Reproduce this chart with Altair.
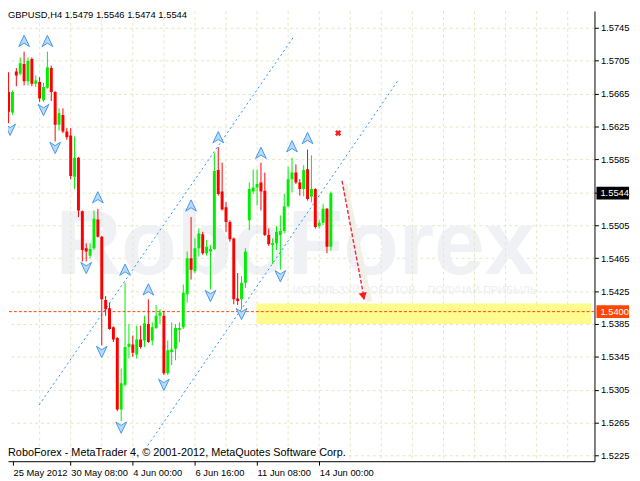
import altair as alt
import pandas as pd

# ---------------- data ----------------
bar_index = list(range(84))
opens = [1.5667,1.5642,1.5692,1.5689,1.5701,1.5680,1.5707,1.5677,1.5679,1.5657,
         1.5672,1.5696,1.5667,1.5627,1.5639,1.5619,1.5614,1.5564,1.5587,1.5522,
         1.5477,1.5468,1.5477,1.5512,1.5491,1.5414,1.5404,1.5381,1.5368,1.5281,
         1.5311,1.5357,1.5360,1.5348,1.5366,1.5365,1.5385,1.5365,1.5380,1.5395,
         1.5395,1.5325,1.5351,1.5355,1.5378,1.5381,1.5421,1.5465,1.5449,1.5477,
         1.5494,1.5471,1.5473,1.5476,1.5572,1.5546,1.5527,1.5509,1.5489,1.5416,
         1.5415,1.5435,1.5511,1.5546,1.5551,1.5557,1.5547,1.5493,1.5481,1.5483,
         1.5493,1.5498,1.5528,1.5561,1.5569,1.5557,1.5549,1.5573,1.5540,1.5549,
         1.5504,1.5508,1.5525,1.5479]
highs = [1.5691,1.5669,1.5696,1.5709,1.5716,1.5709,1.5709,1.5687,1.5685,1.5678,
         1.5716,1.5699,1.5668,1.5647,1.5647,1.5623,1.5623,1.5613,1.5588,1.5523,
         1.5483,1.5483,1.5523,1.5525,1.5492,1.5419,1.5411,1.5382,1.5369,1.5331,
         1.5435,1.5385,1.5371,1.5383,1.5383,1.5395,1.5415,1.5387,1.5408,1.5403,
         1.5401,1.5365,1.5387,1.5385,1.5387,1.5433,1.5473,1.5515,1.5489,1.5501,
         1.5497,1.5487,1.5481,1.5593,1.5600,1.5581,1.5533,1.5511,1.5490,1.5447,
         1.5443,1.5477,1.5557,1.5573,1.5573,1.5581,1.5569,1.5501,1.5489,1.5504,
         1.5517,1.5543,1.5576,1.5587,1.5579,1.5561,1.5578,1.5597,1.5590,1.5550,
         1.5511,1.5531,1.5526,1.5546]
lows = [1.5629,1.5639,1.5674,1.5687,1.5675,1.5675,1.5674,1.5673,1.5655,1.5655,
        1.5671,1.5656,1.5607,1.5620,1.5617,1.5609,1.5561,1.5549,1.5515,1.5461,
        1.5461,1.5465,1.5475,1.5490,1.5359,1.5395,1.5378,1.5363,1.5279,1.5267,
        1.5309,1.5343,1.5345,1.5343,1.5355,1.5357,1.5362,1.5359,1.5379,1.5385,
        1.5323,1.5323,1.5335,1.5341,1.5363,1.5379,1.5411,1.5439,1.5447,1.5467,
        1.5469,1.5468,1.5427,1.5475,1.5541,1.5523,1.5497,1.5485,1.5409,1.5408,
        1.5403,1.5429,1.5499,1.5543,1.5529,1.5523,1.5492,1.5480,1.5458,1.5475,
        1.5451,1.5495,1.5527,1.5545,1.5555,1.5541,1.5540,1.5535,1.5533,1.5501,
        1.5501,1.5505,1.5471,1.5474]
closes = [1.5643,1.5667,1.5687,1.5702,1.5680,1.5705,1.5677,1.5681,1.5659,1.5673,
          1.5697,1.5667,1.5627,1.5641,1.5619,1.5612,1.5565,1.5587,1.5523,1.5475,
          1.5473,1.5476,1.5513,1.5491,1.5415,1.5403,1.5379,1.5366,1.5281,1.5313,
          1.5357,1.5361,1.5350,1.5366,1.5357,1.5386,1.5363,1.5381,1.5395,1.5399,
          1.5325,1.5353,1.5354,1.5380,1.5380,1.5423,1.5465,1.5451,1.5477,1.5495,
          1.5471,1.5479,1.5476,1.5571,1.5543,1.5524,1.5509,1.5488,1.5415,1.5413,
          1.5435,1.5473,1.5549,1.5551,1.5555,1.5546,1.5493,1.5482,1.5483,1.5497,
          1.5498,1.5528,1.5561,1.5569,1.5557,1.5549,1.5572,1.5537,1.5549,1.5503,
          1.5508,1.5525,1.5479,1.5544]

# fractal arrows
up_idx = [4, 10, 23, 30, 36, 47, 54, 65, 73, 77]
up_price = [1.5729, 1.5729, 1.5539, 1.5451, 1.5427, 1.5529, 1.5612, 1.5593, 1.5601, 1.5611]
down_idx = [0.4, 9, 12, 20, 24, 29, 40, 52, 60, 70]
down_price = [1.5621, 1.5645, 1.5599, 1.5453, 1.5351, 1.5259, 1.5311, 1.5419, 1.5397, 1.5443]

# channel lines (two points each)
chan_name = ["A", "A", "B", "B"]
chan_idx = [7.875, 73.625, 35.875, 100.375]
chan_price = [1.52866, 1.57354, 1.52374, 1.56814]

# forecast arrow, target, zone
fc_idx = [85.875, 91.625]
fc_price = [1.5559, 1.5415]
shadow_idx = [86.6, 93.0]
shadow_price = [1.5555, 1.5412]
head_idx = [91.375]
head_price = [1.54186]
cross_idx = [84.875]
cross_price = [1.5617]
zone_start, zone_end = 63.875, 150.0
zone_low, zone_high = 1.5385, 1.5410
target_level = 1.5400

# axes
y_ticks = [1.5225, 1.5265, 1.5305, 1.5345, 1.5385, 1.5425, 1.5465, 1.5505,
           1.5545, 1.5585, 1.5625, 1.5665, 1.5705, 1.5745]
x_tick_idx = [1.125, 16, 32, 48, 64, 80]
x_tick_lbl = ["25 May 2012", "30 May 08:00", "4 Jun 00:00", "6 Jun 16:00",
              "11 Jun 08:00", "14 Jun 00:00"]
vgrid_idx = list(range(8, 150, 8))
box_lbl = ["1.5544", "1.5400"]
box_price = [1.5544, 1.5400]
box_color = ["#000000", "#FF4500"]

title_txt = "GBPUSD,H4  1.5479 1.5546 1.5474 1.5544"
copy_txt = "RoboForex - MetaTrader 4, \u00a9 2001-2012, MetaQuotes Software Corp."

# ---------------- chart ----------------
FONT = "Liberation Sans"
GRID = "#E6E6C4"
xs = alt.Scale(domain=[1.125, 149.625], nice=False, zero=False)
ys = alt.Scale(domain=[1.52182, 1.57654], nice=False, zero=False)

expr = "".join(
    f"abs(datum.value - {v}) < 0.5 ? '{l}' : " for v, l in zip(x_tick_idx, x_tick_lbl)
) + "''"
xaxis = alt.Axis(values=x_tick_idx, labelExpr=expr, labelAlign="left", labelBaseline="top",
                 labelFlush=False, labelOverlap=False, labelPadding=2, labelFont=FONT,
                 labelFontSize=9.5, labelColor="black", tickSize=4, tickColor="black",
                 domain=True, domainColor="black", grid=False, title=None)
yaxis = alt.Axis(orient="right", values=y_ticks, format=".4f", labelFont=FONT,
                 labelFontSize=9.5, labelColor="black", labelPadding=2, labelFlush=False,
                 labelOverlap=False, tickSize=4, tickColor="black", domain=True,
                 domainColor="black", grid=True, gridColor=GRID, gridDash=[3, 3], title=None)


def X(f):
    return alt.X(f, type="quantitative", scale=xs, axis=xaxis)


def Y(f):
    return alt.Y(f, type="quantitative", scale=ys, axis=yaxis)


candles = pd.DataFrame({"i": bar_index, "open": opens, "high": highs,
                        "low": lows, "close": closes})
candles["dir"] = ["up" if c >= o else "down" for o, c in zip(opens, closes)]
col = alt.Color("dir:N", scale=alt.Scale(domain=["up", "down"], range=["#00EE00", "#FF0000"]),
                legend=None)

wm = alt.Chart(pd.DataFrame({"t": ["RoboForex"]})).mark_text(
    font=FONT, fontSize=92, fontWeight="bold", color="#EFF1F5", align="center",
    baseline="alphabetic").encode(text="t:N", x=alt.value(291), y=alt.value(266))
wm2 = alt.Chart(pd.DataFrame({"t": ["ИСПОЛЬЗУЙ РОБОТОВ – ПОЛУЧАЙ ПРИБЫЛЬ"]})).mark_text(
    font=FONT, fontSize=11, color="#EDEEF2", align="center",
    baseline="alphabetic").encode(text="t:N", x=alt.value(412), y=alt.value(287))

vgrid = alt.Chart(pd.DataFrame({"g": vgrid_idx})).mark_rule(
    color=GRID, strokeDash=[3, 3], strokeWidth=1, clip=True).encode(x=X("g"))

zone = alt.Chart(pd.DataFrame({"x1": [zone_start], "x2": [zone_end],
                               "y1": [zone_low], "y2": [zone_high]})).mark_rect(
    color="#FFFB8E", clip=True).encode(x=X("x1"), x2="x2", y=Y("y1"), y2="y2")

hline = alt.Chart(pd.DataFrame({"p": [target_level]})).mark_rule(
    color="#FF4500", strokeDash=[3, 2], strokeWidth=1, clip=True).encode(y=Y("p"))

chan = alt.Chart(pd.DataFrame({"n": chan_name, "i": chan_idx, "p": chan_price})).mark_line(
    color="#1E90FF", strokeDash=[2, 3], strokeWidth=1, clip=True).encode(
    x=X("i"), y=Y("p"), detail="n:N")

wicks = alt.Chart(candles).mark_rule(strokeWidth=1, clip=True).encode(
    x=X("i"), y=Y("low"), y2="high", color=col)
bodies = alt.Chart(candles).mark_bar(size=3, clip=True).encode(
    x=X("i"), y=Y("open"), y2="close", color=col)

UP_PATH = "M0,-1L0.95,1L0,0.4L-0.95,1Z"
DOWN_PATH = "M0,1L0.95,-1L0,-0.4L-0.95,-1Z"
ups = alt.Chart(pd.DataFrame({"i": up_idx, "p": up_price})).mark_point(
    shape=UP_PATH, size=130, filled=True, fill="#B8DAFA", stroke="#4596EC",
    strokeWidth=1, opacity=1, clip=True).encode(x=X("i"), y=Y("p"))
downs = alt.Chart(pd.DataFrame({"i": down_idx, "p": down_price})).mark_point(
    shape=DOWN_PATH, size=130, filled=True, fill="#B8DAFA", stroke="#4596EC",
    strokeWidth=1, opacity=1, clip=True).encode(x=X("i"), y=Y("p"))

shadow = alt.Chart(pd.DataFrame({"i": shadow_idx, "p": shadow_price})).mark_line(
    color="#F0F0E6", strokeWidth=5, clip=True).encode(x=X("i"), y=Y("p"))
fc = alt.Chart(pd.DataFrame({"i": fc_idx, "p": fc_price})).mark_line(
    color="#F0304A", strokeDash=[4, 2], strokeWidth=1.5, clip=True).encode(x=X("i"), y=Y("p"))
head = alt.Chart(pd.DataFrame({"i": head_idx, "p": head_price})).mark_point(
    shape="triangle-down", size=70, filled=True, color="#FF1A1A", angle=349,
    opacity=1, clip=True).encode(x=X("i"), y=Y("p"))
cross = alt.Chart(pd.DataFrame({"i": cross_idx, "p": cross_price})).mark_point(
    shape="cross", size=40, filled=True, color="#FF2020", angle=45, opacity=1,
    clip=True).encode(x=X("i"), y=Y("p"))

boxes_df = pd.DataFrame({"t": box_lbl, "p": box_price, "c": box_color})
boxes = alt.Chart(boxes_df).mark_rule(strokeWidth=13).encode(
    x=alt.value(596), x2=alt.value(629), y=Y("p"), color=alt.Color("c:N", scale=None))
box_txt = alt.Chart(boxes_df).mark_text(
    font=FONT, fontSize=9.5, color="white", align="left", baseline="middle").encode(
    x=alt.value(600), y=Y("p"), text="t:N")

title = alt.Chart(pd.DataFrame({"t": [title_txt]})).mark_text(
    font=FONT, fontSize=9.5, color="black", align="left", baseline="alphabetic").encode(
    text="t:N", x=alt.value(0), y=alt.value(7))
copyright_ = alt.Chart(pd.DataFrame({"t": [copy_txt]})).mark_text(
    font=FONT, fontSize=11, color="black", align="left", baseline="alphabetic").encode(
    text="t:N", x=alt.value(0), y=alt.value(451))

chart = alt.layer(
    wm, wm2, vgrid, zone, hline, chan, wicks, bodies, ups, downs,
    shadow, fc, head, cross, boxes, box_txt, title, copyright_
).properties(
    width=594, height=456,
    autosize=alt.AutoSizeParams(type="none"),
    padding={"left": 0, "top": 0, "right": 38, "bottom": 17},
    background="white",
).configure_view(stroke=None)

chart.save("out.html", embed_options={"renderer": "svg", "actions": False})
